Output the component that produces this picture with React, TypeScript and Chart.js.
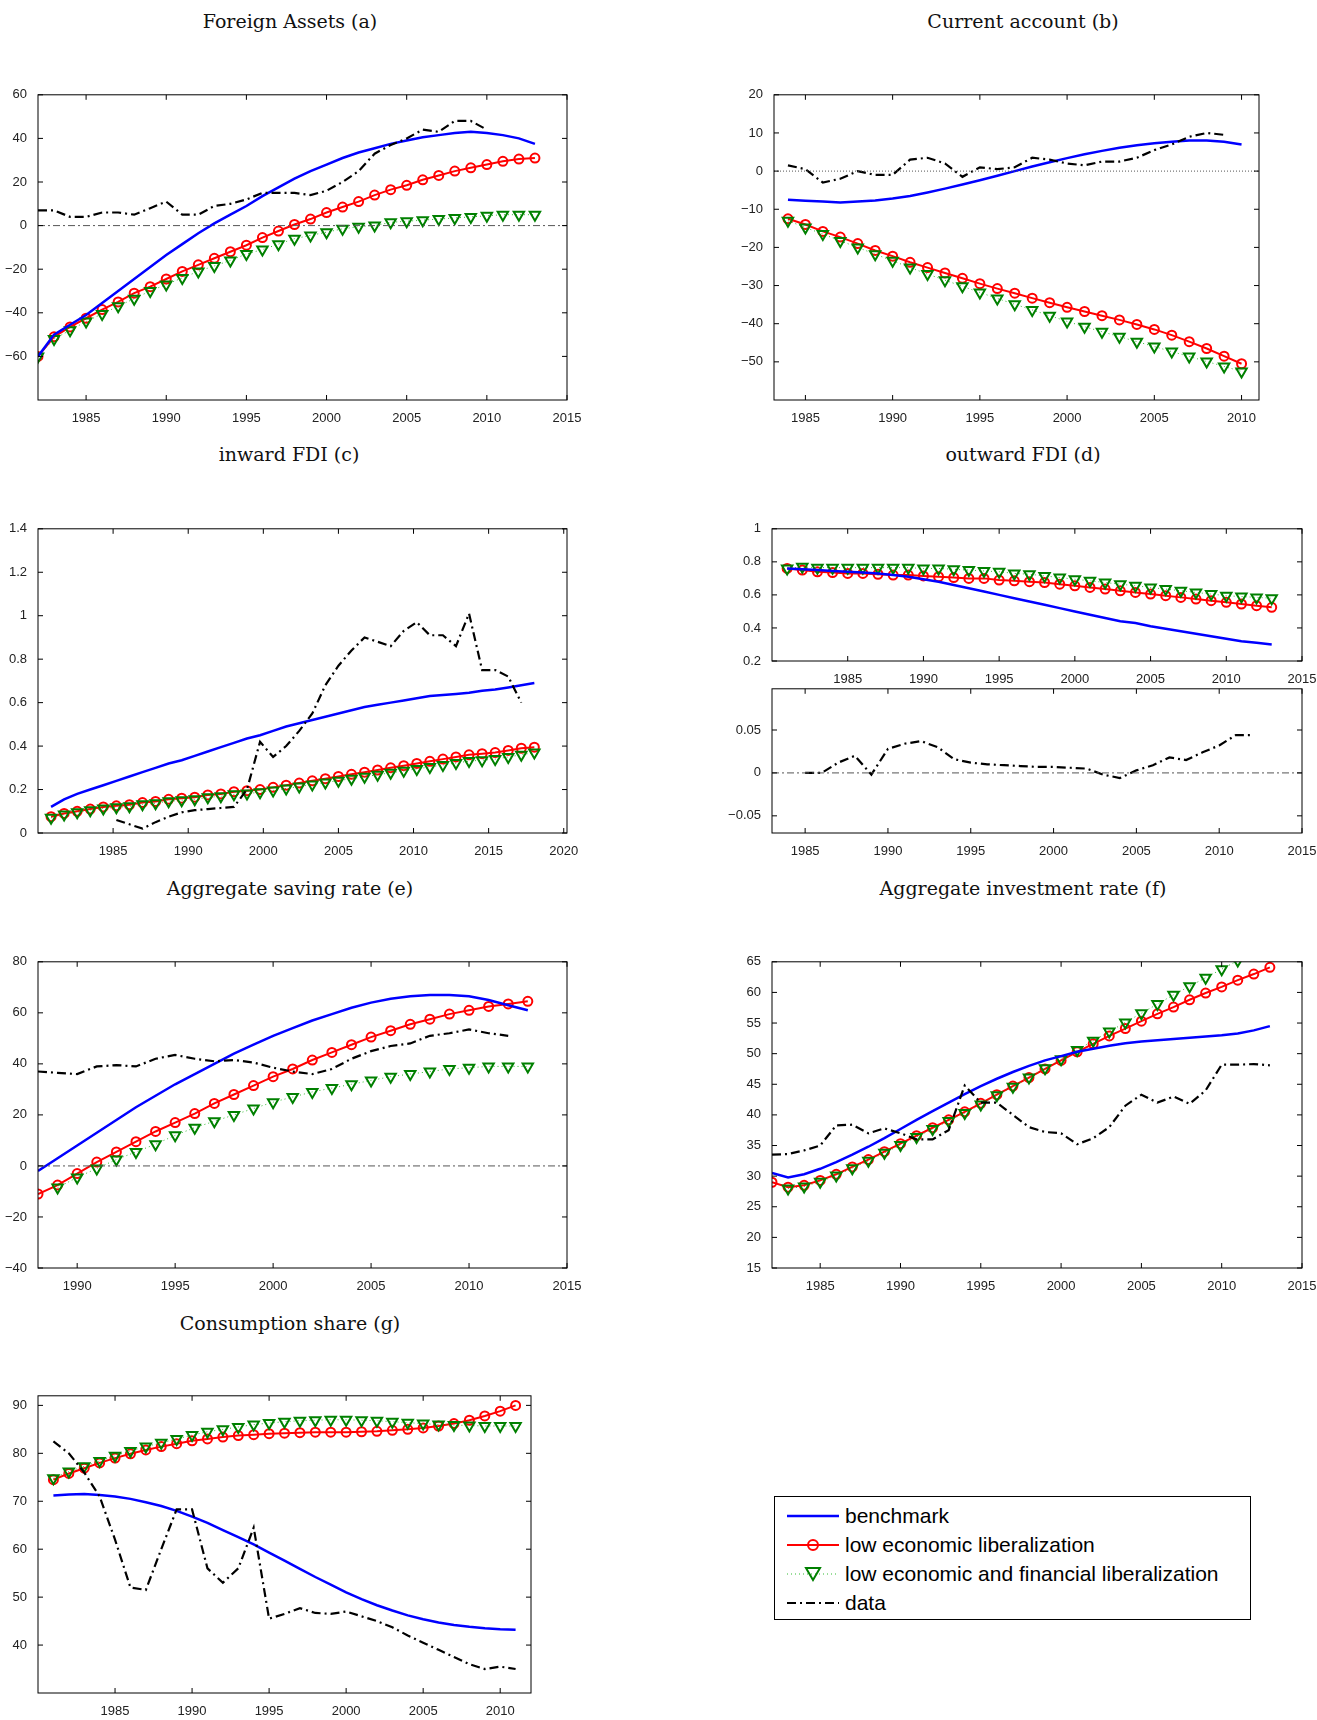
import { useEffect, useRef } from "react";
import { Chart, registerables } from "chart.js";

Chart.register(...registerables);

// ---- panel (a) Foreign Assets
const aStart = 1982;
const aBench = [-60, -50, -45.5, -41, -35.5, -30, -24.5, -19, -13.5, -8.5, -3.5, 1, 5, 9, 13.5, 17.5, 21.5, 25, 28, 31, 33.5, 35.5, 37.5, 39, 40.5, 41.5, 42.5, 43, 42.5, 41.5, 40, 37.5];
const aLowEcon = [-60, -51, -46.5, -42.5, -38.5, -35, -31, -28, -24.5, -21, -18, -15, -12, -9, -5.5, -2.5, 0.5, 3, 6, 8.5, 11, 14, 16.5, 18.5, 21, 23, 25, 26.5, 28, 29.5, 30.5, 31];
const aLowFin = [-60, -52, -48, -44, -40.5, -37, -33.5, -30, -27, -24, -21, -18.5, -16, -13, -11, -8.5, -6, -4.5, -3, -1.5, -0.5, 0, 1.5, 2, 2.5, 3, 3.5, 4, 4.5, 5, 5, 5];
const aData = [7, 7, 4, 4, 6, 6, 5, 8, 11, 5, 5, 9, 10, 12, 15, 15, 15, 14, 16, 20, 25, 33, 37, 40, 44, 43, 48, 48, 44];
const aXTicks = [1985, 1990, 1995, 2000, 2005, 2010, 2015];
const aYTicks = [-60, -40, -20, 0, 20, 40, 60];

// ---- panel (b) Current account
const bStart = 1984;
const bBench = [-7.5, -7.8, -8, -8.2, -8, -7.7, -7.2, -6.5, -5.6, -4.6, -3.5, -2.4, -1.2, 0, 1.2, 2.3, 3.4, 4.4, 5.3, 6.1, 6.8, 7.3, 7.7, 8, 8, 7.7, 7];
const bLowEcon = [-12.5, -14, -15.8, -17.3, -19, -20.8, -22.3, -23.9, -25.3, -26.7, -28.1, -29.5, -30.8, -32, -33.3, -34.5, -35.7, -36.8, -37.9, -39, -40.2, -41.5, -43, -44.7, -46.5, -48.5, -50.5];
const bLowFin = [-13, -14.8, -16.5, -18.3, -20, -21.8, -23.5, -25.3, -27, -28.6, -30.2, -31.8, -33.4, -34.9, -36.4, -37.9, -39.4, -40.8, -42.1, -43.4, -44.7, -46, -47.3, -48.6, -49.9, -51.2, -52.5];
const bData = [1.5, 0.5, -3, -2, 0, -1, -1, 3, 3.5, 2, -1.5, 1, 0.5, 1, 3.5, 3, 2, 1.5, 2.5, 2.5, 3.5, 5.5, 7, 9, 10, 9.5];
const bXTicks = [1985, 1990, 1995, 2000, 2005, 2010];
const bYTicks = [-50, -40, -30, -20, -10, 0, 10, 20];

// ---- panel (c) inward FDI
const cStart = 1981;
const cBench = [0.12, 0.155, 0.18, 0.2, 0.22, 0.24, 0.26, 0.28, 0.3, 0.32, 0.335, 0.355, 0.375, 0.395, 0.415, 0.435, 0.45, 0.47, 0.49, 0.505, 0.52, 0.535, 0.55, 0.565, 0.58, 0.59, 0.6, 0.61, 0.62, 0.63, 0.635, 0.64, 0.645, 0.655, 0.66, 0.67, 0.68, 0.69];
const cLowEcon = [0.075, 0.09, 0.1, 0.11, 0.12, 0.125, 0.13, 0.14, 0.145, 0.155, 0.16, 0.165, 0.175, 0.18, 0.19, 0.195, 0.2, 0.21, 0.22, 0.23, 0.24, 0.25, 0.26, 0.27, 0.28, 0.29, 0.3, 0.31, 0.32, 0.33, 0.34, 0.35, 0.36, 0.365, 0.37, 0.38, 0.39, 0.395];
const cLowFin = [0.07, 0.085, 0.095, 0.105, 0.113, 0.118, 0.123, 0.132, 0.137, 0.146, 0.151, 0.155, 0.164, 0.169, 0.178, 0.182, 0.187, 0.196, 0.205, 0.214, 0.223, 0.232, 0.241, 0.25, 0.259, 0.268, 0.277, 0.286, 0.295, 0.304, 0.313, 0.322, 0.331, 0.335, 0.34, 0.35, 0.36, 0.37];
const cDataStart = 1986;
const cData = [0.06, 0.04, 0.02, 0.05, 0.075, 0.095, 0.105, 0.11, 0.115, 0.12, 0.2, 0.42, 0.35, 0.4, 0.47, 0.55, 0.68, 0.77, 0.84, 0.9, 0.88, 0.86, 0.93, 0.97, 0.91, 0.91, 0.86, 1.01, 0.75, 0.75, 0.72, 0.6];
const cXTickPos = [1985.75, 1991.5, 1997.25, 2003, 2008.75, 2014.5, 2020.25];
const cXTickLabels = ["1985", "1990", "2000", "2005", "2010", "2015", "2020"];
const cYTicks = [0, 0.2, 0.4, 0.6, 0.8, 1, 1.2, 1.4];

// ---- panel (d) outward FDI
const dStart = 1981;
const dBench = [0.76, 0.755, 0.75, 0.745, 0.74, 0.735, 0.73, 0.72, 0.71, 0.695, 0.68, 0.66, 0.64, 0.62, 0.6, 0.58, 0.56, 0.54, 0.52, 0.5, 0.48, 0.46, 0.44, 0.43, 0.41, 0.395, 0.38, 0.365, 0.35, 0.335, 0.32, 0.31, 0.3];
const dLowEcon = [0.76, 0.75, 0.74, 0.735, 0.73, 0.73, 0.725, 0.72, 0.72, 0.715, 0.71, 0.705, 0.7, 0.7, 0.69, 0.685, 0.68, 0.675, 0.665, 0.655, 0.645, 0.635, 0.625, 0.615, 0.605, 0.595, 0.585, 0.575, 0.565, 0.555, 0.545, 0.535, 0.525];
const dLowFin = [0.76, 0.77, 0.765, 0.765, 0.765, 0.765, 0.765, 0.765, 0.765, 0.76, 0.76, 0.755, 0.75, 0.745, 0.74, 0.73, 0.725, 0.715, 0.705, 0.695, 0.685, 0.675, 0.665, 0.655, 0.645, 0.635, 0.625, 0.615, 0.605, 0.595, 0.59, 0.585, 0.58];
const dXTicks = [1985, 1990, 1995, 2000, 2005, 2010, 2015];
const dYTicks = [0.2, 0.4, 0.6, 0.8, 1];
const d2Start = 1985;
const d2Data = [0, 0, 0.012, 0.02, -0.002, 0.028, 0.034, 0.037, 0.03, 0.016, 0.012, 0.01, 0.009, 0.008, 0.007, 0.007, 0.006, 0.005, -0.002, -0.006, 0.003, 0.009, 0.018, 0.015, 0.024, 0.032, 0.044, 0.044];
const d2YTicks = [-0.05, 0, 0.05];

// ---- panel (e) Aggregate saving rate
const eStart = 1988;
const eBench = [-2, 3, 8, 13, 18, 23, 27.5, 32, 36, 40, 44, 47.5, 51, 54, 57, 59.5, 62, 64, 65.5, 66.5, 67, 67, 66.5, 65, 63, 61];
const eLowEcon = [-11, -7.5, -3, 1.5, 5.5, 9.5, 13.5, 17, 20.5, 24.5, 28, 31.5, 35, 38, 41.5, 44.5, 47.5, 50.5, 53, 55.5, 57.5, 59.5, 61, 62.5, 63.5, 64.5];
const eLowFin = [null, -8.5, -4.5, -1, 2.5, 5.5, 8.5, 12, 15, 17.5, 20, 22.5, 25, 27, 29, 30.5, 32, 33.5, 35, 36, 37, 38, 38.5, 39, 39, 39];
const eData = [37, 36.5, 36, 39, 39.5, 39, 42, 43.5, 42, 41, 41.5, 40.5, 38.5, 37, 36, 38, 42, 45, 47, 48, 51, 52, 53.5, 52, 51];
const eXTicks = [1990, 1995, 2000, 2005, 2010, 2015];
const eYTicks = [-40, -20, 0, 20, 40, 60, 80];

// ---- panel (f) Aggregate investment rate
const fStart = 1982;
const fBench = [30.5, 29.8, 30.3, 31.2, 32.3, 33.5, 34.8, 36.2, 37.7, 39.2, 40.6, 42, 43.4, 44.7, 45.9, 47, 48, 48.9, 49.6, 50.3, 50.8, 51.3, 51.7, 52, 52.2, 52.4, 52.6, 52.8, 53, 53.3, 53.8, 54.5];
const fLowEcon = [29, 28.2, 28.5, 29.3, 30.3, 31.5, 32.7, 34, 35.3, 36.6, 37.9, 39.2, 40.5, 41.9, 43.3, 44.7, 46.1, 47.5, 48.9, 50.3, 51.6, 52.9, 54.1, 55.3, 56.5, 57.6, 58.8, 59.9, 60.9, 62, 63, 64.1];
const fLowFin = [null, 28, 28.3, 29.1, 30.1, 31.3, 32.5, 33.8, 35.1, 36.4, 37.7, 39, 40.3, 41.7, 43.2, 44.6, 46.1, 47.6, 49.1, 50.6, 52.1, 53.6, 55.1, 56.6, 58.1, 59.6, 61, 62.4, 63.8, 65.2, 66.6, 68];
const fData = [33.5, 33.6, 34.2, 35, 38.3, 38.4, 37, 37.8, 37, 36, 36, 37.5, 44.8, 42, 42, 40, 38, 37.2, 37, 35.2, 36.2, 38, 41.5, 43.3, 42, 43, 41.8, 44, 48.2, 48.2, 48.3, 48.1];
const fXTicks = [1985, 1990, 1995, 2000, 2005, 2010, 2015];
const fYTicks = [15, 20, 25, 30, 35, 40, 45, 50, 55, 60, 65];

// ---- panel (g) Consumption share
const gStart = 1981;
const gBench = [71.2, 71.4, 71.5, 71.3, 71, 70.5, 69.8, 69, 68, 66.8, 65.5, 64, 62.5, 61, 59.3, 57.6, 55.9, 54.2, 52.6, 51, 49.6, 48.3, 47.2, 46.2, 45.4, 44.7, 44.2, 43.8, 43.5, 43.3, 43.2];
const gLowEcon = [74.5, 75.8, 76.9, 78, 79, 79.9, 80.7, 81.4, 82, 82.6, 83, 83.4, 83.7, 83.9, 84.1, 84.2, 84.3, 84.4, 84.4, 84.4, 84.5, 84.6, 84.8, 85, 85.3, 85.7, 86.2, 86.9, 87.8, 88.8, 90];
const gLowFin = [74.8, 76.2, 77.3, 78.4, 79.5, 80.5, 81.4, 82.2, 83, 83.8, 84.5, 85, 85.5, 86, 86.3, 86.6, 86.8, 86.9, 87, 87, 86.9, 86.8, 86.6, 86.4, 86.2, 86, 85.9, 85.8, 85.7, 85.7, 85.7];
const gData = [82.5, 80, 76, 71, 62, 52, 51.5, 60, 68.3, 68.3, 56, 53, 56, 64.5, 45.5, 46.5, 47.7, 46.7, 46.5, 47, 46, 45, 43.7, 42, 40.5, 39, 37.5, 36, 35, 35.5, 35];
const gXTicks = [1985, 1990, 1995, 2000, 2005, 2010];
const gYTicks = [40, 50, 60, 70, 80, 90];

const BLUE = "#0000ff";
const RED = "#ff0000";
const GREEN = "#008000";
const FONT = "'Liberation Sans', Arial, sans-serif";

const pts = (start: number, vals: (number | null)[]) =>
  vals.map((y, i) => ({ x: start + i, y }));

type Series = { kind: "bench" | "econ" | "fin" | "data" | "zero" | "dotzero"; start: number; values: (number | null)[] };

type PanelProps = {
  left: number; right: number; top: number; bottom: number;
  xMin: number; xMax: number; yMin: number; yMax: number;
  xTicks: number[]; xLabels?: string[]; yTicks: number[];
  series: Series[];
};

const framePlugin = {
  id: "frame",
  afterDatasetsDraw(chart: any) {
    const { ctx, chartArea: a, scales } = chart;
    ctx.save();
    ctx.strokeStyle = "#000";
    ctx.lineWidth = 1;
    ctx.strokeRect(a.left, a.top, a.right - a.left, a.bottom - a.top);
    ctx.beginPath();
    scales.x.ticks.forEach((t: any) => {
      const px = scales.x.getPixelForValue(t.value);
      ctx.moveTo(px, a.bottom); ctx.lineTo(px, a.bottom - 5);
      ctx.moveTo(px, a.top); ctx.lineTo(px, a.top + 5);
    });
    scales.y.ticks.forEach((t: any) => {
      const py = scales.y.getPixelForValue(t.value);
      ctx.moveTo(a.left, py); ctx.lineTo(a.left + 5, py);
      ctx.moveTo(a.right, py); ctx.lineTo(a.right - 5, py);
    });
    ctx.stroke();
    ctx.restore();
  },
};

function makeDataset(s: Series, p: PanelProps) {
  if (s.kind === "zero" || s.kind === "dotzero") {
    return {
      data: [{ x: p.xMin, y: 0 }, { x: p.xMax, y: 0 }],
      borderColor: "#555", borderWidth: 1, pointRadius: 0,
      borderDash: s.kind === "zero" ? [7, 3, 2, 3] : [1, 2],
    };
  }
  const data = pts(s.start, s.values);
  if (s.kind === "bench") return { data, borderColor: BLUE, borderWidth: 2.5, pointRadius: 0 };
  if (s.kind === "data") return { data, borderColor: "#000", borderWidth: 2.2, pointRadius: 0, borderDash: [9, 4, 2, 4] };
  if (s.kind === "econ") return {
    data, borderColor: RED, borderWidth: 2, pointRadius: 4.5, pointBorderWidth: 2,
    pointBorderColor: RED, pointBackgroundColor: "transparent", pointStyle: "circle",
  };
  return {
    data, borderColor: "#33bb33", borderWidth: 1, borderDash: [1, 3], pointRadius: 6,
    pointBorderWidth: 2, pointBorderColor: GREEN, pointBackgroundColor: "transparent",
    pointStyle: "triangle", pointRotation: 180,
  };
}

function Panel(p: PanelProps) {
  const ref = useRef<HTMLCanvasElement>(null);
  const padL = 52, padR = 28, padT = 8, padB = 22;
  useEffect(() => {
    if (!ref.current) return;
    const order = ["zero", "dotzero", "data", "bench", "fin", "econ"];
    const sorted = [...p.series].sort((a, b) => order.indexOf(a.kind) - order.indexOf(b.kind));
    const chart = new Chart(ref.current, {
      type: "line",
      data: { datasets: sorted.map((s) => makeDataset(s, p)) as any },
      options: {
        animation: false,
        responsive: false,
        events: [],
        layout: { padding: { top: padT, right: padR, left: 0, bottom: 0 } },
        plugins: { legend: { display: false }, tooltip: { enabled: false } },
        scales: {
          x: {
            type: "linear", min: p.xMin, max: p.xMax,
            grid: { display: false }, border: { display: false },
            afterBuildTicks: (sc: any) => { sc.ticks = p.xTicks.map((v) => ({ value: v })); },
            afterFit: (sc: any) => { sc.height = padB; },
            ticks: {
              autoSkip: false, maxRotation: 0, padding: 3, color: "#222",
              font: { family: FONT, size: 13 },
              callback: (v: any) => {
                const i = p.xTicks.indexOf(Number(v));
                return p.xLabels ? p.xLabels[i] : String(v);
              },
            },
          },
          y: {
            type: "linear", min: p.yMin, max: p.yMax,
            grid: { display: false }, border: { display: false },
            afterBuildTicks: (sc: any) => { sc.ticks = p.yTicks.map((v) => ({ value: v })); },
            afterFit: (sc: any) => { sc.width = padL; },
            ticks: {
              autoSkip: false, padding: 3, color: "#222",
              font: { family: FONT, size: 13 },
              callback: (v: any) => {
                const n = Number(v);
                return n < 0 ? "\u2212" + String(Math.abs(n)) : String(n);
              },
            },
          },
        },
      },
      plugins: [framePlugin],
    } as any);
    return () => chart.destroy();
  }, []);
  const w = p.right - p.left + padL + padR;
  const h = p.bottom - p.top + padT + padB;
  return (
    <canvas
      ref={ref}
      width={w}
      height={h}
      style={{ position: "absolute", left: p.left - padL, top: p.top - padT, width: w, height: h }}
    />
  );
}

function Title({ x, y, text }: { x: number; y: number; text: string }) {
  return (
    <div style={{
      position: "absolute", left: x - 200, top: y - 12, width: 400, textAlign: "center",
      fontFamily: "'DejaVu Serif', 'Liberation Serif', serif", fontSize: 19, color: "#111",
    }}>{text}</div>
  );
}

function LegendRow({ kind, label }: { kind: string; label: string }) {
  return (
    <div style={{ display: "flex", alignItems: "center", height: 29 }}>
      <svg width={62} height={20} style={{ marginRight: 2 }}>
        {kind === "bench" && <line x1={6} y1={10} x2={58} y2={10} stroke={BLUE} strokeWidth={2.5} />}
        {kind === "econ" && <>
          <line x1={6} y1={10} x2={58} y2={10} stroke={RED} strokeWidth={2} />
          <circle cx={32} cy={10} r={5} fill="none" stroke={RED} strokeWidth={2} />
        </>}
        {kind === "fin" && <>
          <line x1={6} y1={10} x2={58} y2={10} stroke="#33bb33" strokeWidth={1} strokeDasharray="1 3" />
          <polygon points="25,4 39,4 32,16" fill="none" stroke={GREEN} strokeWidth={2} />
        </>}
        {kind === "data" && <line x1={6} y1={10} x2={58} y2={10} stroke="#000" strokeWidth={2.2} strokeDasharray="9 4 2 4" />}
      </svg>
      <span>{label}</span>
    </div>
  );
}

export default function App() {
  return (
    <div style={{ position: "absolute", left: 0, top: 0, width: 1317, height: 1720, background: "#fff" }}>
      <Title x={290} y={22} text="Foreign Assets (a)" />
      <Title x={1023} y={22} text="Current account (b)" />
      <Title x={289} y={455} text="inward FDI (c)" />
      <Title x={1023} y={455} text="outward FDI (d)" />
      <Title x={290} y={889} text="Aggregate saving rate (e)" />
      <Title x={1023} y={889} text="Aggregate investment rate (f)" />
      <Title x={290} y={1324} text="Consumption share (g)" />

      <Panel left={38} right={567} top={92} bottom={400} xMin={1982} xMax={2015} yMin={-80} yMax={60}
        xTicks={aXTicks} yTicks={aYTicks}
        series={[{ kind: "zero", start: 0, values: [] }, { kind: "data", start: aStart, values: aData },
          { kind: "bench", start: aStart, values: aBench }, { kind: "fin", start: aStart, values: aLowFin },
          { kind: "econ", start: aStart, values: aLowEcon }]} />
      <Panel left={774} right={1259} top={92} bottom={400} xMin={1983.2} xMax={2011} yMin={-60} yMax={20}
        xTicks={bXTicks} yTicks={bYTicks}
        series={[{ kind: "dotzero", start: 0, values: [] }, { kind: "data", start: bStart, values: bData },
          { kind: "bench", start: bStart, values: bBench }, { kind: "fin", start: bStart, values: bLowFin },
          { kind: "econ", start: bStart, values: bLowEcon }]} />
      <Panel left={38} right={567} top={526} bottom={833} xMin={1980} xMax={2020.5} yMin={0} yMax={1.4}
        xTicks={cXTickPos} xLabels={cXTickLabels} yTicks={cYTicks}
        series={[{ kind: "data", start: cDataStart, values: cData },
          { kind: "bench", start: cStart, values: cBench }, { kind: "fin", start: cStart, values: cLowFin },
          { kind: "econ", start: cStart, values: cLowEcon }]} />
      <Panel left={772} right={1302} top={526} bottom={661} xMin={1980} xMax={2015} yMin={0.2} yMax={1}
        xTicks={dXTicks} yTicks={dYTicks}
        series={[{ kind: "bench", start: dStart, values: dBench }, { kind: "fin", start: dStart, values: dLowFin },
          { kind: "econ", start: dStart, values: dLowEcon }]} />
      <Panel left={772} right={1302} top={686} bottom={833} xMin={1983} xMax={2015} yMin={-0.07} yMax={0.098}
        xTicks={dXTicks} yTicks={d2YTicks}
        series={[{ kind: "zero", start: 0, values: [] }, { kind: "data", start: d2Start, values: d2Data }]} />
      <Panel left={38} right={567} top={959} bottom={1268} xMin={1988} xMax={2015} yMin={-40} yMax={80}
        xTicks={eXTicks} yTicks={eYTicks}
        series={[{ kind: "zero", start: 0, values: [] }, { kind: "data", start: eStart, values: eData },
          { kind: "bench", start: eStart, values: eBench }, { kind: "fin", start: eStart, values: eLowFin },
          { kind: "econ", start: eStart, values: eLowEcon }]} />
      <Panel left={772} right={1302} top={959} bottom={1268} xMin={1982} xMax={2015} yMin={15} yMax={65}
        xTicks={fXTicks} yTicks={fYTicks}
        series={[{ kind: "data", start: fStart, values: fData },
          { kind: "bench", start: fStart, values: fBench }, { kind: "fin", start: fStart, values: fLowFin },
          { kind: "econ", start: fStart, values: fLowEcon }]} />
      <Panel left={38} right={531} top={1393} bottom={1693} xMin={1980} xMax={2012} yMin={30} yMax={92}
        xTicks={gXTicks} yTicks={gYTicks}
        series={[{ kind: "data", start: gStart, values: gData },
          { kind: "bench", start: gStart, values: gBench }, { kind: "fin", start: gStart, values: gLowFin },
          { kind: "econ", start: gStart, values: gLowEcon }]} />

      <div style={{
        position: "absolute", left: 774, top: 1496, width: 477, height: 124, boxSizing: "border-box",
        border: "1px solid #000", padding: "4px 0 0 6px", fontFamily: FONT, fontSize: 21, color: "#000",
        whiteSpace: "nowrap",
      }}>
        <LegendRow kind="bench" label="benchmark" />
        <LegendRow kind="econ" label="low economic liberalization" />
        <LegendRow kind="fin" label="low economic and financial liberalization" />
        <LegendRow kind="data" label="data" />
      </div>
    </div>
  );
}
